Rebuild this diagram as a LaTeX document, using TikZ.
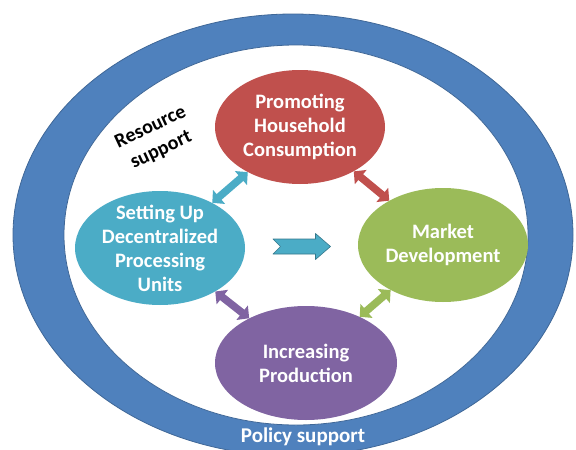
\documentclass[tikz,border=0pt]{standalone}
\usepackage{fontspec}
\setmainfont{Carlito}
\usetikzlibrary{arrows.meta, shapes.geometric, calc}

\definecolor{ringblue}{HTML}{4F81BD}
\definecolor{cyanfill}{HTML}{4BACC6}
\definecolor{redfill}{HTML}{C0504D}
\definecolor{greenfill}{HTML}{9BBB59}
\definecolor{purplefill}{HTML}{8064A2}

\begin{document}
\begin{tikzpicture}[x=1pt, y=-1pt,
    stage/.style={ellipse, minimum width=170pt, minimum height=114pt, inner xsep=0pt, inner ysep=-12pt, align=center, text=white, font=\bfseries\fontsize{20.5}{24}\selectfont},
    link/.style={line width=7.5pt, {Triangle[length=9pt,width=18pt]}-{Triangle[length=9pt,width=18pt]}},
    notch/.style={fill=cyanfill, draw=cyanfill!70!black, line width=0.6pt, line join=round},
    caption/.style={font=\bfseries\fontsize{20}{25}\selectfont, align=center}
]
\useasboundingbox (0,0) rectangle (576,450);
\clip (0,0) rectangle (576,450);

% Outer ring: policy support
\fill[ringblue, draw=ringblue!80!black, line width=0.8pt] (293,235) ellipse [x radius=280pt, y radius=221pt];
\fill[white, draw=ringblue!80!black, line width=0.8pt] (296,235) ellipse [x radius=232pt, y radius=190pt];

% The four stages
\node[stage, fill=redfill] (consume) at (300,127) {Promoting\\Household\\Consumption};
\node[stage, fill=cyanfill] (units) at (160,248) {Setting Up\\Decentralized\\Processing\\Units};
\node[stage, fill=greenfill] (market) at (443,245) {Market\\Development};
\node[stage, fill=purplefill, minimum width=182pt] (produce) at (306,363) {Increasing\\Production};

% Two-way links between stages
\draw[link, cyanfill] (units) -- (consume);
\draw[link, redfill] (consume) -- (market);
\draw[link, purplefill] (units) -- (produce);
\draw[link, greenfill] (market) -- (produce);

% Notched arrow in the middle
\coordinate (flow) at ($(units)!0.5!(market)$);
\draw[notch, shift={(flow)}] (-28.5,-7.5) -- (14,-7.5) -- (14,-13) -- (29,0) -- (14,13) -- (14,7.5) -- (-28.5,7.5) -- (-21,0) -- cycle;

% Labels
\node[caption, rotate=25] (resource) at (156,139) {Resource\\support};
\node[caption, text=white, font=\bfseries\fontsize{21}{25}\selectfont] (policy) at (303,437) {Policy support};
\end{tikzpicture}
\end{document}
